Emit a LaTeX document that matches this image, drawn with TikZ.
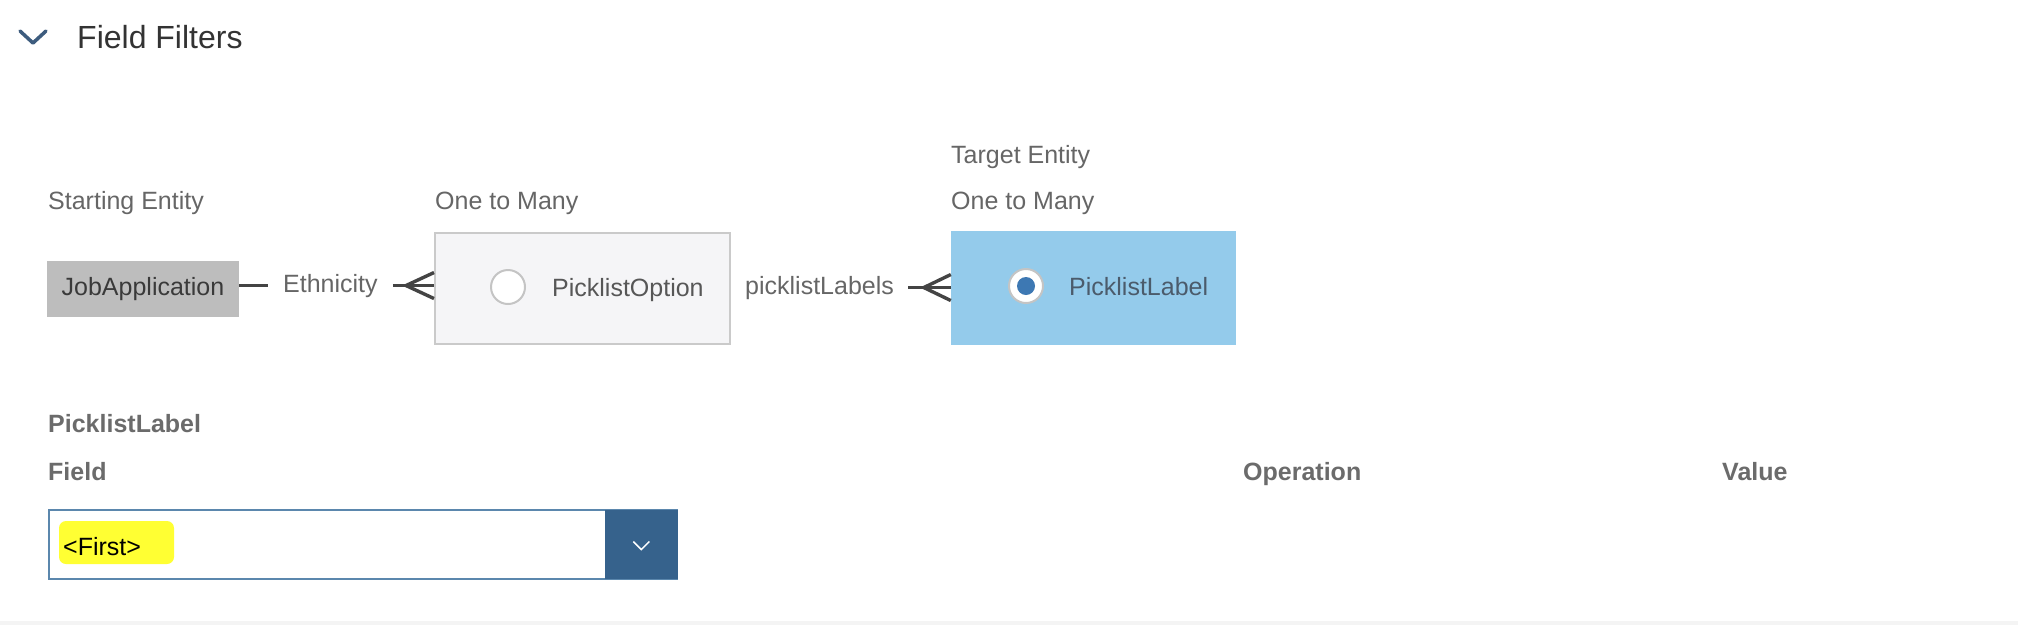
\documentclass[tikz,border=0pt]{standalone}
\usepackage{fontspec}
\setmainfont{Liberation Sans}
\usetikzlibrary{calc}
\definecolor{txtgray}{HTML}{666666}
\definecolor{headgray}{HTML}{6B6B6B}
\definecolor{titlegray}{HTML}{333333}
\definecolor{darktxt}{HTML}{3A3A3A}
\definecolor{chevblue}{HTML}{3D5C7E}
\definecolor{jobgray}{HTML}{BDBDBD}
\definecolor{optfill}{HTML}{F5F5F7}
\definecolor{optborder}{HTML}{CACACA}
\definecolor{labelblue}{HTML}{94CBEB}
\definecolor{labtxt}{HTML}{4B5B6B}
\definecolor{radiogray}{HTML}{C4C4C4}
\definecolor{radiodot}{HTML}{3D78B3}
\definecolor{linkgray}{HTML}{444444}
\definecolor{dropborder}{HTML}{5B87AD}
\definecolor{btnblue}{HTML}{36628C}
\definecolor{hlyellow}{HTML}{FFFF33}
\definecolor{bottomgray}{HTML}{F4F4F4}
\tikzset{
	lbl/.style={
		anchor=base west,
		inner sep=0pt,
		text=txtgray,
		font=\fontsize{25}{30}\selectfont
	},
	headlbl/.style={
		lbl,
		text=headgray,
		font=\fontsize{25}{30}\selectfont\bfseries
	},
	entitybox/.style={
		inner sep=0pt,
		rectangle
	},
	radio/.style={
		circle,
		draw=radiogray,
		line width=2pt,
		fill=white,
		minimum size=34pt,
		inner sep=0pt
	},
	link/.style={
		line width=3.4pt,
		draw=linkgray
	}
}

\begin{document}
\begin{tikzpicture}[x=1pt,y=-1pt]
	\useasboundingbox[fill=white] (0,0) rectangle (2018,625);
	\fill[bottomgray] (0,621) rectangle (2018,625);

	% heading
	\draw[line width=3.5pt, chevblue, line cap=round, line join=round] (20,31) -- (33,43) -- (46,31);
	\node[lbl, text=titlegray, font=\fontsize{32}{38}\selectfont] (title) at (77,48) {Field Filters};

	% path of entities
	\node[lbl] (start) at (48,209) {Starting Entity};
	\node[lbl] (otm1) at (435,209) {One to Many};
	\node[lbl] (target) at (951,163) {Target Entity};
	\node[lbl] (otm2) at (951,209) {One to Many};

	\node[entitybox, fill=jobgray, text=darktxt, font=\fontsize{25}{30}\selectfont, minimum width=192pt, minimum height=56pt] (job) at (143,289) {JobApplication};
	\node[lbl] (eth) at (283,292) {Ethnicity};

	\node[entitybox, fill=optfill, draw=optborder, line width=2pt, minimum width=295pt, minimum height=111pt] (opt) at (582.5,288.5) {};
	\node[radio] (optradio) at (508,287) {};
	\node[lbl, text=darktxt!85] (optname) at (552,296) {PicklistOption};
	\node[lbl] (labels) at (745,294) {picklistLabels};

	\node[entitybox, fill=labelblue, minimum width=285pt, minimum height=114pt] (lab) at (1093.5,288) {};
	\node[radio] (labradio) at (1026,286) {};
	\node[circle, fill=radiodot, minimum size=18pt, inner sep=0pt] (labdot) at (labradio) {};
	\node[lbl, text=labtxt] (labname) at (1069,295) {PicklistLabel};

	\draw[link, shorten >=15pt] (job.east |- eth.west) -- (eth.west);
	\draw[link, shorten <=15pt] (eth.east) -- (eth.east -| opt.west);
	\draw[link] ($(eth.east -| opt.west)+(0,-13)$) -- ++(-28,13) -- ++(28,13);
	\draw[link, shorten <=14pt] (labels.east) -- (labels.east -| lab.west);
	\draw[link] ($(labels.east -| lab.west)+(0,-13)$) -- ++(-27,13) -- ++(27,13);

	% filter row
	\node[headlbl] (sect) at (48,432) {PicklistLabel};
	\node[headlbl] (field) at (48,480) {Field};
	\node[headlbl] (oper) at (1243,480) {Operation};
	\node[headlbl] (val) at (1722,480) {Value};

	\node[draw=dropborder, line width=2pt, fill=white, minimum width=628pt, minimum height=69pt, inner sep=0pt] (drop) at (363,544.5) {};
	\node[fill=btnblue, minimum width=73pt, minimum height=69pt, inner sep=0pt, anchor=east] (btn) at (drop.east) {};
	\draw[white, line width=1.5pt] ($(btn)+(-8,-3)$) -- ($(btn)+(0,5)$) -- ($(btn)+(8,-3)$);
	\node[fill=hlyellow, rounded corners=7pt, minimum width=115pt, minimum height=43pt, inner sep=0pt] (hl) at (116.5,542.5) {};
	\node[lbl, text=black] (first) at (63,555) {<First>};
\end{tikzpicture}
\end{document}
